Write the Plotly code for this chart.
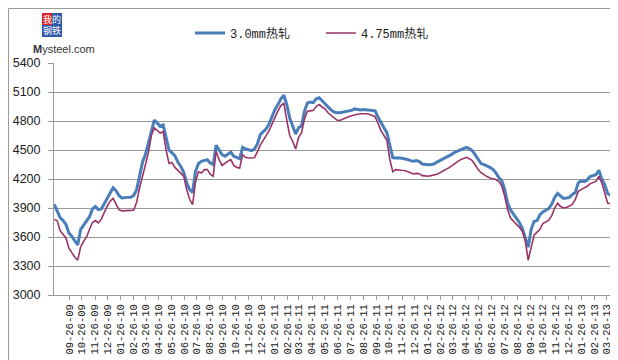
import pandas as pd
import plotly.graph_objects as go

# weekly sample dates (x categories)
dates = pd.date_range("2009-08-21", periods=191, freq="7D")

# 3.0mm hot-rolled price
hr_30 = [
    3940, 3870, 3800, 3770, 3730, 3640, 3607, 3560, 3520, 3680,
    3725, 3760, 3810, 3890, 3915, 3883, 3890, 3945, 4005, 4055,
    4110, 4080, 4030, 4003, 4010, 4010, 4012, 4030, 4090, 4240,
    4375, 4455, 4580, 4700, 4810, 4780, 4745, 4760, 4620, 4500,
    4470, 4440, 4375, 4330, 4270, 4160, 4090, 4060, 4280, 4360,
    4383, 4395, 4400, 4366, 4350, 4549, 4500, 4452, 4435, 4460,
    4479, 4435, 4420, 4410, 4528, 4510, 4503, 4493, 4510, 4560,
    4659, 4690, 4720, 4770, 4850, 4920, 4970, 5030, 5066, 4970,
    4830, 4745, 4665, 4730, 4750, 4900, 4986, 4997, 4990, 5030,
    5040, 5010, 4975, 4940, 4915, 4895, 4885, 4885, 4890, 4900,
    4905, 4910, 4925, 4920, 4915, 4920, 4917, 4915, 4912, 4905,
    4840, 4780, 4730, 4680, 4560, 4420, 4417, 4420, 4415, 4412,
    4402, 4390, 4383, 4390, 4380, 4355, 4350, 4348, 4350, 4355,
    4375, 4390, 4405, 4420, 4435, 4455, 4475, 4490, 4505, 4515,
    4528, 4515, 4493, 4450, 4400, 4360, 4348, 4335, 4320, 4300,
    4265, 4215, 4185, 4095, 3950, 3880, 3840, 3797, 3750, 3690,
    3590, 3495, 3680, 3760, 3770, 3830, 3860, 3880, 3895, 3940,
    4010, 4050, 4020, 4000, 4003, 4010, 4040, 4060, 4160, 4180,
    4172, 4190, 4225, 4232, 4245, 4290, 4200, 4140, 4050, 4030,
    4040,
]

# 4.75mm hot-rolled price
hr_475 = [
    3780, 3770, 3665, 3630, 3590, 3485, 3435, 3390, 3360, 3500,
    3555, 3600, 3680, 3750, 3770, 3745, 3785, 3860, 3920, 3970,
    4000, 3940, 3883, 3870, 3870, 3872, 3875, 3880, 3960, 4110,
    4220, 4350, 4475, 4650, 4730, 4700, 4676, 4690, 4500, 4360,
    4370, 4320, 4290, 4262, 4230, 4090, 3990, 3935, 4170, 4275,
    4262, 4297, 4297, 4250, 4228, 4486, 4400, 4340, 4366, 4385,
    4400, 4340, 4320, 4314, 4452, 4425, 4417, 4417, 4420, 4480,
    4550, 4600, 4645, 4700, 4770, 4845, 4905, 4960, 4986, 4810,
    4650, 4590, 4510, 4630, 4680, 4820, 4900, 4905, 4910, 4950,
    4970, 4945, 4925, 4885, 4860, 4835, 4810, 4805, 4820, 4830,
    4845, 4855, 4866, 4870, 4875, 4878, 4875, 4870, 4860, 4845,
    4775, 4700, 4650, 4600, 4400, 4275, 4297, 4290, 4290, 4288,
    4280, 4265, 4252, 4258, 4255, 4235, 4232, 4228, 4235, 4242,
    4250, 4265, 4280, 4297, 4315, 4335, 4360, 4380, 4400, 4415,
    4424, 4410, 4390, 4345, 4297, 4265, 4240, 4225, 4210, 4205,
    4195, 4175, 4130, 4025, 3885, 3795, 3765, 3728, 3700, 3660,
    3560, 3360, 3480, 3620, 3650, 3680, 3740, 3760, 3775, 3820,
    3900, 3950, 3915, 3900, 3905, 3920, 3940, 3990, 4072, 4090,
    4105, 4125, 4150, 4165, 4175, 4228, 4160, 4055, 3950, 3945,
    3935,
]

series_names = ["3.0mm热轧", "4.75mm热轧"]
series_colors = ["#4A7EBB", "#993366"]

tick_dates = pd.date_range("2009-08-26", "2013-03-26", freq="MS") + pd.Timedelta(days=25)
tick_text = [d.strftime("%m-%d-%y") for d in tick_dates]

y_ticks = [3000, 3300, 3600, 3900, 4200, 4500, 4800, 5100, 5400]

fig = go.Figure()
fig.add_trace(go.Scatter(x=dates, y=hr_30, mode="lines", name=series_names[0],
                         line=dict(color=series_colors[0], width=3)))
fig.add_trace(go.Scatter(x=dates, y=hr_475, mode="lines", name=series_names[1],
                         line=dict(color=series_colors[1], width=1.6)))

L, R, T, B = 46, 12, 55, 73
W, H = 618, 360
pw, ph = W - L - R, H - T - B

def px(xp):
    return (xp - L) / pw

def py(yp):
    return (H - B - yp) / ph

fig.update_layout(
    width=W, height=H,
    margin=dict(l=L, r=R, t=T, b=B, autoexpand=False),
    paper_bgcolor="#ffffff",
    plot_bgcolor="#ffffff",
    showlegend=True,
    legend=dict(orientation="h", x=px(182), y=py(25), xanchor="left", yanchor="middle",
                font=dict(family="Liberation Mono, Noto Sans CJK SC", size=12, color="#222"),
                itemwidth=30, entrywidth=86, entrywidthmode="pixels",
                bgcolor="rgba(0,0,0,0)"),
    xaxis=dict(
        type="date",
        automargin=False,
        range=["2009-08-20 12:00", "2013-04-13"],
        tickvals=list(tick_dates), ticktext=tick_text,
        tickangle=-90,
        tickfont=dict(family="Liberation Mono", size=10.5, color="#222"),
        showgrid=False, zeroline=False,
        showline=True, linecolor="#999999", linewidth=1,
        ticks="outside", ticklen=4, tickcolor="#999999",
    ),
    yaxis=dict(
        automargin=False,
        range=[3000, 5400],
        tickvals=y_ticks,
        tickfont=dict(family="Liberation Sans, Arial", size=12.5, color="#222"),
        showgrid=True, gridcolor="#999999", gridwidth=1,
        zeroline=False,
        showline=True, linecolor="#999999", linewidth=1,
        ticks="outside", ticklen=5, tickcolor="#999999",
        ticklabelstandoff=5,
    ),
)

# outer frame of the picture
fig.add_shape(type="rect", xref="paper", yref="paper",
              x0=px(0.5), x1=px(617.5), y0=py(359.5), y1=py(0.5),
              line=dict(color="#9a9a9a", width=1), layer="below")

# Mysteel logo: coloured squares + characters
squares = [(34, 44, 5, 17, "#d9262c"), (44, 54, 5, 17, "#2f58a8"),
           (34, 44, 17, 29, "#2f58a8"), (44, 54, 17, 29, "#2f58a8")]
for x0, x1, y0, y1, col in squares:
    fig.add_shape(type="rect", xref="paper", yref="paper",
                  x0=px(x0), x1=px(x1), y0=py(y1), y1=py(y0),
                  fillcolor=col, line=dict(width=0), layer="above")
fig.add_annotation(text="我的<br>钢铁", xref="paper", yref="paper", x=px(44), y=py(17),
                   xanchor="center", yanchor="middle", showarrow=False,
                   borderpad=0, align="center", height=24,
                   font=dict(family="Noto Sans CJK SC", size=9, color="#ffffff"))
fig.add_annotation(text="<b>M</b>ysteel.com", xref="paper", yref="paper",
                   x=px(24), y=py(41), xanchor="left", yanchor="middle", showarrow=False,
                   borderpad=0,
                   font=dict(family="Liberation Sans, Arial", size=11, color="#333333"))

fig.write_html("out.html")
